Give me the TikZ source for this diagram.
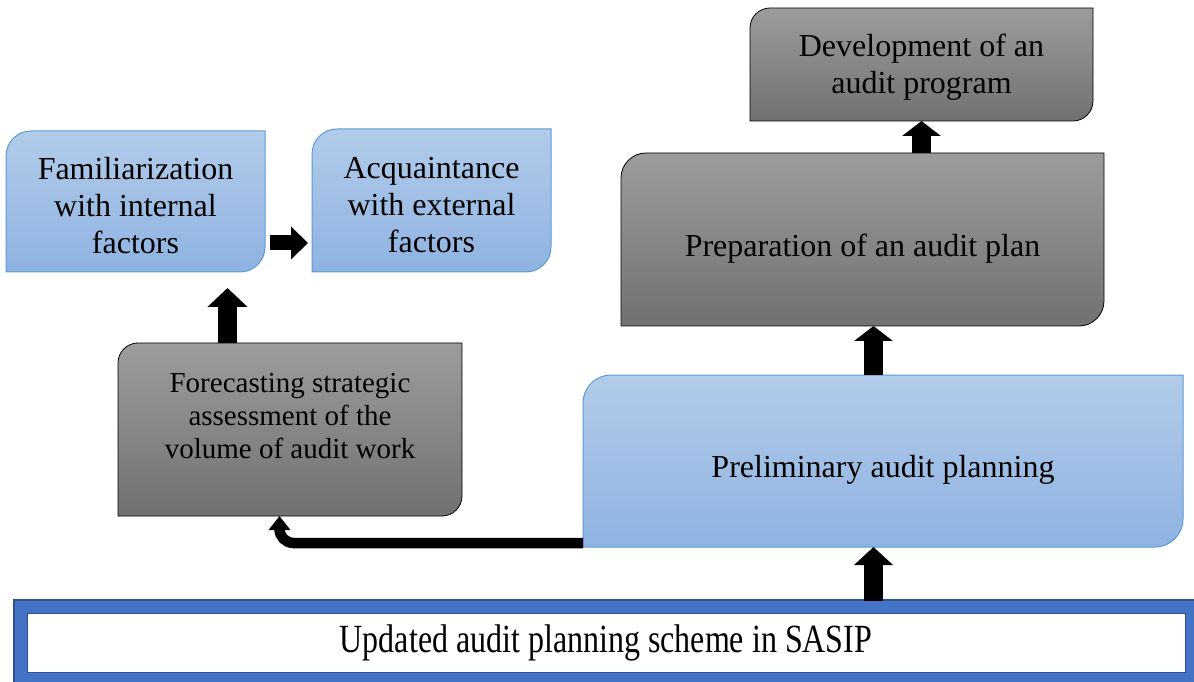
\documentclass[tikz,border=0pt]{standalone}
\usepackage{fontspec}
\setmainfont{Liberation Serif}
\usetikzlibrary{arrows.meta,backgrounds,calc}
\definecolor{bluetop}{HTML}{B2CBEA}
\definecolor{bluebot}{HTML}{8EB3E1}
\definecolor{blueedge}{HTML}{5B9BD5}
\definecolor{graytop}{HTML}{9C9C9C}
\definecolor{graybot}{HTML}{717171}
\definecolor{bandblue}{HTML}{4472C4}
\definecolor{banddark}{HTML}{2F528F}
\newcommand\diagshape[3]{%
  \path[#3] let \p1=(#1.south west), \p2=(#1.north east) in
    (\x1,\y1) -- (\x1,\y2-#2) arc[start angle=180,end angle=90,radius=#2]
    -- (\x2,\y2) -- (\x2,\y1+#2) arc[start angle=0,end angle=-90,radius=#2] -- cycle;}
\begin{document}
\begin{tikzpicture}[x=1pt,y=1pt,
  box/.style={rectangle, inner sep=0pt, outer sep=0pt, align=center,
    font=\fontsize{32}{37}\selectfont},
  bluefill/.style={top color=bluetop, bottom color=bluebot, draw=blueedge, line width=1pt},
  grayfill/.style={top color=graytop, bottom color=graybot, draw=black, line width=0.8pt},
  blockarrow/.style={draw=black, line width=#1}
]
\useasboundingbox (0,0) rectangle (1194,681);

% boxes
\node[box, minimum width=259pt, minimum height=141pt] (fam) at (135.5,479.5)
  {\rule{0pt}{31pt}Familiarization\\with internal\\factors};
\node[box, minimum width=239pt, minimum height=143pt] (acq) at (431.5,480.5)
  {\rule{0pt}{31pt}Acquaintance\\with external\\factors};
\node[box, minimum width=344pt, minimum height=173pt, text depth=28pt,
  font=\fontsize{29}{33}\selectfont] (fc) at (290,251.5)
  {Forecasting strategic\\assessment of the\\volume of audit work};
\node[box, minimum width=343pt, minimum height=113pt] (dev) at (921.5,616.5)
  {\rule{0pt}{27pt}Development of an\\audit program};
\node[box, minimum width=483pt, minimum height=173pt, text height=40pt] (prep) at (862.5,441.5)
  {Preparation of an audit plan};
\node[box, minimum width=600pt, minimum height=172pt, text height=40pt] (pre) at (883,220)
  {Preliminary audit planning};
\node[box, minimum width=1158pt, minimum height=59pt, draw=banddark, line width=1pt,
  fill=white] (bot) at (606,38.5)
  {\scalebox{1}[1.25]{Updated audit planning scheme in SASIP}};

\begin{scope}[on background layer]
  \diagshape{fam}{25pt}{bluefill}
  \diagshape{acq}{25pt}{bluefill}
  \diagshape{fc}{20pt}{grayfill}
  \diagshape{dev}{20pt}{grayfill}
  \diagshape{prep}{25pt}{grayfill}
  \diagshape{pre}{28pt}{bluefill}
  \path[fill=bandblue, draw=banddark, line width=1.5pt]
    ([xshift=-13pt,yshift=-13pt]bot.south west) rectangle ([xshift=13pt,yshift=13pt]bot.north east);
\end{scope}

% connectors
\draw[blockarrow=15pt, -{Triangle[length=17pt,width=32pt]}]
  ([xshift=5pt,yshift=-41.5pt]fam.east) -- ([xshift=-4pt,yshift=-42.5pt]acq.west);
\draw[blockarrow=19pt, -{Triangle[length=19pt,width=39pt]}]
  ([xshift=-62.5pt]fc.north) -- ([xshift=92pt,yshift=-16pt]fam.south);
\draw[blockarrow=19pt, -{Triangle[length=15pt,width=38pt]}]
  ([xshift=-9.5pt]pre.north) -- ([xshift=11pt]prep.south);
\draw[blockarrow=19pt, -{Triangle[length=15pt,width=38pt]}]
  ([xshift=59pt]prep.north) -- (dev.south);
\draw[blockarrow=19pt, -{Triangle[length=18pt,width=38pt]}]
  ([xshift=267.5pt,yshift=12pt]bot.north) -- ([xshift=-9.5pt]pre.south);
\draw[blockarrow=10.5pt, rounded corners=14pt, -{Triangle[length=14pt,width=21pt]}]
  ([yshift=-82pt]pre.west) -| ([xshift=-10.5pt]fc.south);
\end{tikzpicture}
\end{document}
